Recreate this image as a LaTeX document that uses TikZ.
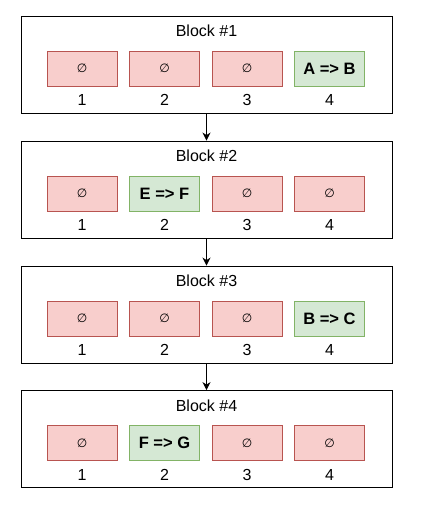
\documentclass[tikz,border=0pt]{standalone}
\usepackage{fontspec}
\setmainfont{Liberation Sans}
\newfontfamily\symfont{DejaVu Sans}
\usetikzlibrary{arrows.meta,positioning}
\definecolor{emptyfill}{HTML}{F8CECC}
\definecolor{emptydraw}{HTML}{B85450}
\definecolor{rulefill}{HTML}{D5E8D4}
\definecolor{ruledraw}{HTML}{82B366}

\begin{document}
\begin{tikzpicture}[
  x=1pt, y=1pt,
  font=\fontsize{16}{19}\selectfont,
  block/.style={rectangle, draw=black, line width=0.9pt,
                minimum width=371pt, minimum height=97pt, inner sep=0pt},
  title/.style={inner sep=0pt},
  cell/.style={rectangle, minimum width=70pt, minimum height=35pt,
               inner sep=0pt, line width=0.8pt},
  empty/.style={cell, draw=emptydraw, fill=emptyfill,
                font=\symfont\fontsize{12}{14}\selectfont},
  rule/.style={cell, draw=ruledraw, fill=rulefill,
               font=\bfseries\fontsize{16.5}{19}\selectfont},
  idx/.style={inner sep=0pt, below=8pt of #1},
  arr/.style={-{Stealth[length=8pt,width=8pt]}, line width=0.9pt}
]
\useasboundingbox (0,0) rectangle (424,508);
% block 1
\node[block] (blk1) at (206.5,443.5) {};
\node[title] (t1) at (206.5,477) {Block \#1};
\node[empty] (c11) at (82,439.5)    {∅};      \node[idx=c11] (n11) {1};
\node[empty] (c12) at (164.5,439.5) {∅};      \node[idx=c12] (n12) {2};
\node[empty] (c13) at (247,439.5)   {∅};      \node[idx=c13] (n13) {3};
\node[rule]  (c14) at (329.5,439.5) {A => B}; \node[idx=c14] (n14) {4};
% block 2
\node[block] (blk2) at (206.5,318.5) {};
\node[title] (t2) at (206.5,352) {Block \#2};
\node[empty] (c21) at (82,314.5)    {∅};      \node[idx=c21] (n21) {1};
\node[rule]  (c22) at (164.5,314.5) {E => F}; \node[idx=c22] (n22) {2};
\node[empty] (c23) at (247,314.5)   {∅};      \node[idx=c23] (n23) {3};
\node[empty] (c24) at (329.5,314.5) {∅};      \node[idx=c24] (n24) {4};
% block 3
\node[block] (blk3) at (206.5,193.5) {};
\node[title] (t3) at (206.5,227) {Block \#3};
\node[empty] (c31) at (82,189.5)    {∅};      \node[idx=c31] (n31) {1};
\node[empty] (c32) at (164.5,189.5) {∅};      \node[idx=c32] (n32) {2};
\node[empty] (c33) at (247,189.5)   {∅};      \node[idx=c33] (n33) {3};
\node[rule]  (c34) at (329.5,189.5) {B => C}; \node[idx=c34] (n34) {4};
% block 4
\node[block] (blk4) at (206.5,69) {};
\node[title] (t4) at (206.5,102.5) {Block \#4};
\node[empty] (c41) at (82,65)    {∅};      \node[idx=c41] (n41) {1};
\node[rule]  (c42) at (164.5,65) {F => G}; \node[idx=c42] (n42) {2};
\node[empty] (c43) at (247,65)   {∅};      \node[idx=c43] (n43) {3};
\node[empty] (c44) at (329.5,65) {∅};      \node[idx=c44] (n44) {4};
% links
\draw[arr] (blk1) -- (blk2);
\draw[arr] (blk2) -- (blk3);
\draw[arr] (blk3) -- (blk4);
\end{tikzpicture}
\end{document}
